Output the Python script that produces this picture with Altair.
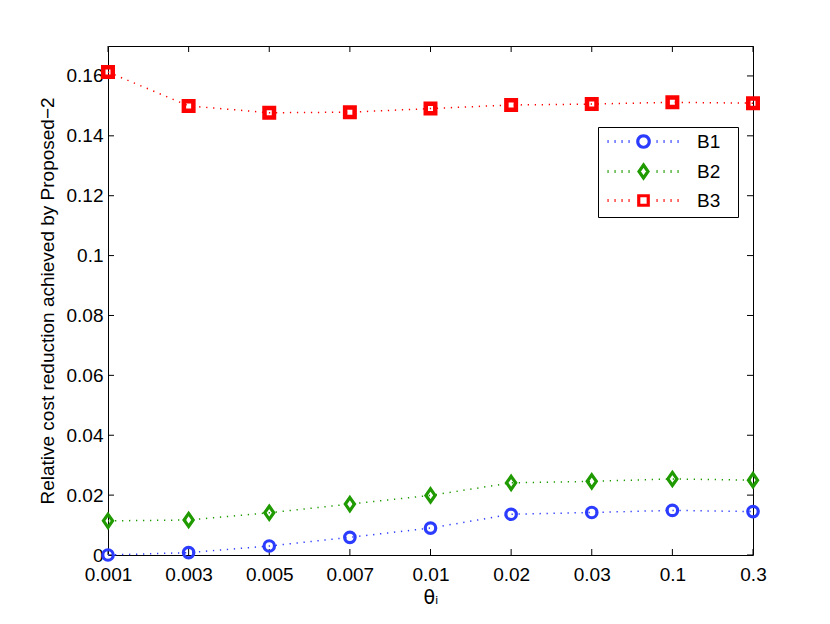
import math
import altair as alt
import pandas as pd

categories = ["0.001", "0.003", "0.005", "0.007", "0.01", "0.02", "0.03", "0.1", "0.3"]
b1 = [0.0000, 0.0008, 0.0030, 0.0059, 0.0090, 0.0136, 0.0142, 0.0149, 0.0145]
b2 = [0.0114, 0.0117, 0.0141, 0.0170, 0.0199, 0.0241, 0.0246, 0.0254, 0.0250]
b3 = [0.1613, 0.1500, 0.1477, 0.1479, 0.1491, 0.1503, 0.1506, 0.1512, 0.1509]
series = ["B1", "B2", "B3"]
colors = ["#2b3cff", "#1f9a00", "#ff0000"]
y_ticks = [0, 0.02, 0.04, 0.06, 0.08, 0.1, 0.12, 0.14, 0.16]

rows = []
for name, vals in zip(series, [b1, b2, b3]):
    for c, v in zip(categories, vals):
        rows.append({"theta": c, "value": v, "series": name})
df = pd.DataFrame(rows)

W, H = 645, 509
FONT = "Liberation Sans"

x_scale = alt.Scale(type="point", padding=0, domain=categories)
y_scale = alt.Scale(domain=[0, 0.17], nice=False, zero=True)

x_enc = alt.X("theta:N", scale=x_scale,
              axis=alt.Axis(title="θᵢ", labelAngle=0, tickSize=0, domain=False,
                            labelFlush=False, labelOverlap=False, labelBound=False,
                            labelFontSize=19, labelPadding=10, titleFontSize=19,
                            titleFontWeight="normal", titlePadding=4, titleFont="DejaVu Sans"))
y_enc = alt.Y("value:Q", scale=y_scale,
              axis=alt.Axis(title="Relative cost reduction achieved by Proposed−2",
                            values=y_ticks, format="~g", tickSize=0, domain=False,
                            labelFlush=False, labelOverlap=False,
                            labelFontSize=19, labelPadding=5, titleFontSize=19,
                            titleFontWeight="normal", titlePadding=9, grid=False))

# marker shapes (plot)
diamond = "M0,-1L0.7,0L0,1L-0.7,0Z"
marker_specs = [("circle", 110, 3.2), (diamond, 170, 3.2), ("square", 90, 4.5)]


# legend symbols: dotted line with marker in the middle (unit = sqrt(size)/2 = 5px)
def dashes():
    parts = []
    x = -7.2
    while x <= 7.2:
        if abs(x) > 1.7:
            parts.append("M%.2f,0h0.22" % x)
        x += 1.4
    return "".join(parts) + "M16.6,0h0"


def poly_circle(r, n=24):
    pts = ["%.3f,%.3f" % (r * math.cos(2 * math.pi * k / n), r * math.sin(2 * math.pi * k / n)) for k in range(n)]
    return "M" + "L".join(pts) + "Z"


leg_shapes = [
    dashes() + poly_circle(1.15),
    dashes() + "M0,-1.3L0.9,0L0,1.3L-0.9,0Z",
    dashes() + "M-0.95,-0.95H0.95V0.95H-0.95Z",
]

layers = []

xt = pd.DataFrame({"theta": categories})
yt = pd.DataFrame({"value": y_ticks})
layers.append(alt.Chart(xt).mark_rule(color="black", strokeWidth=1).encode(
    x=x_enc, y=alt.value(H), y2=alt.value(H - 6)))
layers.append(alt.Chart(xt).mark_rule(color="black", strokeWidth=1).encode(
    x=x_enc, y=alt.value(0), y2=alt.value(6)))
layers.append(alt.Chart(yt).mark_rule(color="black", strokeWidth=1).encode(
    y=y_enc, x=alt.value(0), x2=alt.value(6)))
layers.append(alt.Chart(yt).mark_rule(color="black", strokeWidth=1).encode(
    y=y_enc, x=alt.value(W - 6), x2=alt.value(W)))

for name, col, (shp, sz, sw) in zip(series, colors, marker_specs):
    sub = df[df.series == name]
    layers.append(alt.Chart(sub).mark_line(color=col, strokeWidth=1.5, strokeDash=[1.3, 5.7]).encode(
        x=x_enc, y=y_enc))
    layers.append(alt.Chart(sub).mark_point(color=col, filled=False, shape=shp, size=sz,
                                            strokeWidth=sw, opacity=1).encode(x=x_enc, y=y_enc))

leg = alt.Legend(title=None, orient="none", legendX=490, legendY=81,
                 strokeColor="black", fillColor="white", padding=5,
                 labelFontSize=19, symbolSize=100, symbolStrokeWidth=3.2,
                 rowPadding=4, symbolOffset=31, labelOffset=44)

legend_layer = alt.Chart(df).transform_filter("false").mark_point(filled=False, opacity=1).encode(
    x=x_enc, y=y_enc,
    color=alt.Color("series:N", scale=alt.Scale(domain=series, range=colors), legend=leg),
    shape=alt.Shape("series:N", scale=alt.Scale(domain=series, range=leg_shapes), legend=leg),
)
layers.append(legend_layer)

chart = alt.layer(*layers).properties(
    width=W, height=H,
    autosize=alt.AutoSizeParams(type="none"),
    padding={"left": 100, "top": 38, "right": 69, "bottom": 61},
    background="white",
).configure_view(stroke="black", strokeWidth=1).configure_axis(
    labelFont=FONT, titleFont=FONT, labelColor="black", titleColor="black"
).configure_legend(labelFont=FONT, labelColor="black")

chart.save("out.html", embed_options={"renderer": "svg", "actions": False})
